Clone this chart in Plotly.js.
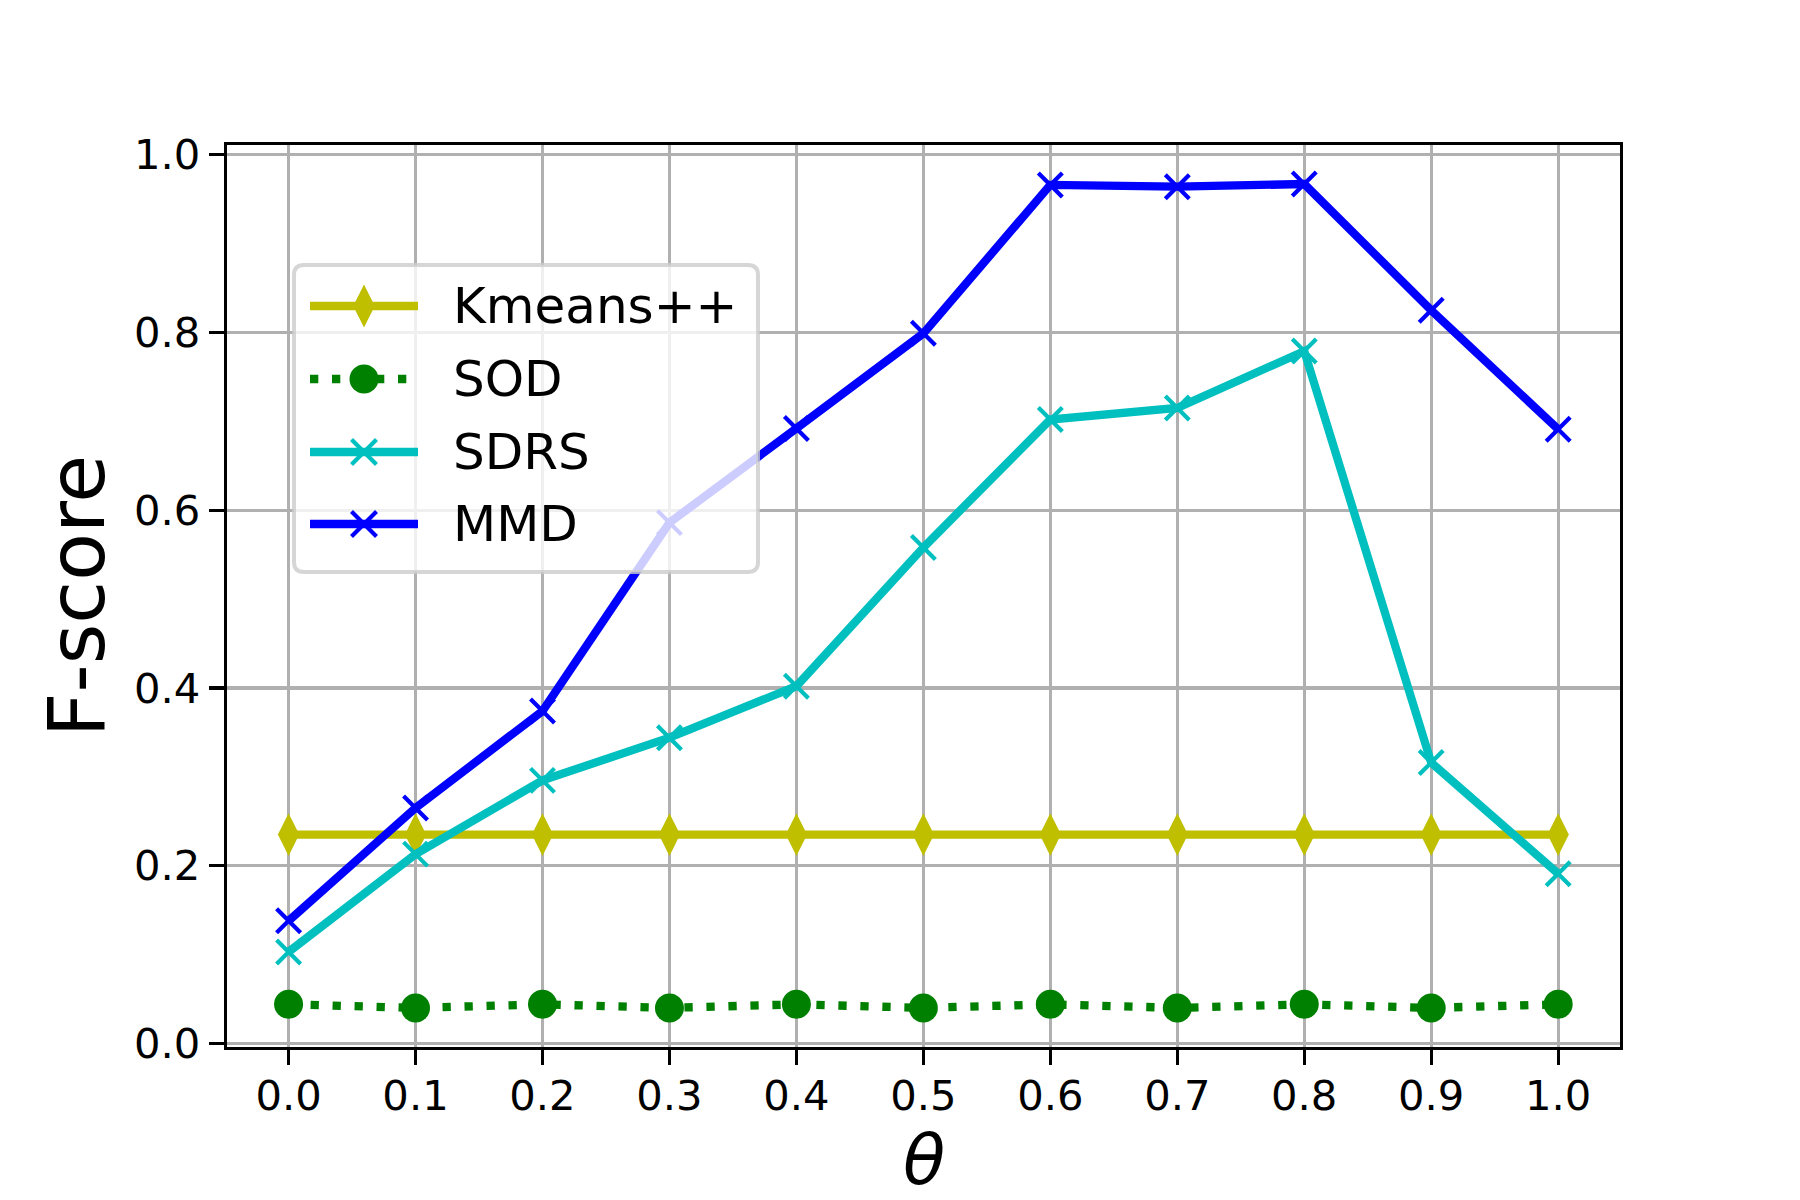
<!DOCTYPE html>
<html>
<head>
<meta charset="utf-8">
<script src="https://cdn.plot.ly/plotly-3.0.1.min.js"></script>
<style>
    html, body { margin: 0; padding: 0; background: #fff; }
    #chart { width: 1800px; height: 1200px; }
</style>
</head>
<body>
<div id="chart"></div>
<script>
// ── Data ─────────────────────────────────────────────────────────────

const theta = [0.0, 0.1, 0.2, 0.3, 0.4, 0.5, 0.6, 0.7, 0.8, 0.9, 1.0];

const seriesNames = ['Kmeans++', 'SOD', 'SDRS', 'MMD'];

const kmeansScores = [0.235, 0.235, 0.235, 0.235, 0.235, 0.235, 0.235, 0.235, 0.235, 0.235, 0.235];
const sodScores    = [0.044, 0.040, 0.044, 0.040, 0.044, 0.040, 0.044, 0.040, 0.044, 0.040, 0.044];
const sdrsScores   = [0.103, 0.213, 0.296, 0.344, 0.402, 0.558, 0.702, 0.715, 0.779, 0.316, 0.191];
const mmdScores    = [0.138, 0.265, 0.374, 0.586, 0.692, 0.799, 0.966, 0.964, 0.967, 0.825, 0.691];

const xTickVals   = [0.0, 0.1, 0.2, 0.3, 0.4, 0.5, 0.6, 0.7, 0.8, 0.9, 1.0];
const xTickLabels = ['0.0', '0.1', '0.2', '0.3', '0.4', '0.5', '0.6', '0.7', '0.8', '0.9', '1.0'];
const yTickVals   = [0.0, 0.2, 0.4, 0.6, 0.8, 1.0];
const yTickLabels = ['0.0', '0.2', '0.4', '0.6', '0.8', '1.0'];

const xTitle = '<i>θ</i>';
const yTitle = 'F-score';

// ── Styling (matplotlib look at 300 dpi) ─────────────────────────────

const FONT = 'DejaVu Sans, Liberation Sans, sans-serif';
const LW = 8.3;            // 2 pt line
const THIN = 3.3;          // 0.8 pt spines / grid
const DOT = '8.3px,13.7px';

const styles = [
    { color: '#bfbf00', dash: 'solid', symbol: 'diamond-tall', size: 30.5 },
    { color: '#008000', dash: DOT,     symbol: 'circle',       size: 29 },
    { color: '#00bfbf', dash: 'solid', symbol: 'x-thin',       size: 24 },
    { color: '#0000ff', dash: 'solid', symbol: 'x-thin',       size: 24 }
];

const seriesValues = [kmeansScores, sodScores, sdrsScores, mmdScores];

// Plot area in page pixels. Plotly draws the frame just outside this box,
// so the box sits ~1.6 px inside where matplotlib put its spines.
const M = { l: 227, r: 180, t: 145, b: 153 };
const W = 1800, H = 1200;
const plotW = W - M.l - M.r;
const plotH = H - M.t - M.b;
const px = x => (x - M.l) / plotW;
const py = y => (H - M.b - y) / plotH;

// ── Traces ───────────────────────────────────────────────────────────

const traces = seriesValues.map((vals, i) => {
    const s = styles[i];
    const thinX = s.symbol === 'x-thin';
    return {
        x: theta,
        y: vals,
        type: 'scatter',
        mode: 'lines+markers',
        name: seriesNames[i],
        showlegend: false,
        line: { color: s.color, width: LW, dash: s.dash },
        marker: {
            symbol: s.symbol,
            size: s.size,
            color: s.color,
            line: { color: s.color, width: thinX ? 4.2 : 0 }
        }
    };
});

// ── Legend (matplotlib style, semi-transparent, over the lines) ─────

function roundedRect(x0, y0, x1, y1, r) {
    // pixel box -> paper path with rounded corners
    const rx = r / plotW, ry = r / plotH;
    const L = px(x0), R = px(x1), T = py(y0), B = py(y1);
    return 'M' + (L + rx) + ',' + T +
        ' L' + (R - rx) + ',' + T + ' Q' + R + ',' + T + ' ' + R + ',' + (T - ry) +
        ' L' + R + ',' + (B + ry) + ' Q' + R + ',' + B + ' ' + (R - rx) + ',' + B +
        ' L' + (L + rx) + ',' + B + ' Q' + L + ',' + B + ' ' + L + ',' + (B + ry) +
        ' L' + L + ',' + (T - ry) + ' Q' + L + ',' + T + ' ' + (L + rx) + ',' + T + ' Z';
}

const legendBox = { x0: 294, y0: 265, x1: 758, y1: 572 };
const legendRows = [306, 379, 452, 524];
const legendLine = { x0: 310, x1: 418, mid: 364, text: 451 };

function markerShape(symbol, color, cy) {
    const base = {
        type: 'path',
        layer: 'above',
        xref: 'paper', yref: 'paper',
        xsizemode: 'pixel', ysizemode: 'pixel',
        xanchor: px(legendLine.mid), yanchor: py(cy)
    };
    if (symbol === 'diamond-tall') {
        return Object.assign(base, {
            path: 'M0,21.5 L10.8,0 L0,-21.5 L-10.8,0 Z',
            fillcolor: color, line: { width: 0 }
        });
    }
    if (symbol === 'circle') {
        return Object.assign(base, {
            type: 'circle', x0: -14.5, x1: 14.5, y0: -14.5, y1: 14.5,
            fillcolor: color, line: { width: 0 }
        });
    }
    return Object.assign(base, {
        path: 'M-12.5,-12.5 L12.5,12.5 M-12.5,12.5 L12.5,-12.5',
        line: { color: color, width: 4.2 }
    });
}

const shapes = [{
    type: 'path',
    layer: 'above',
    xref: 'paper', yref: 'paper',
    path: roundedRect(legendBox.x0, legendBox.y0, legendBox.x1, legendBox.y1, 10),
    fillcolor: 'rgba(255,255,255,0.8)',
    line: { color: 'rgba(204,204,204,0.8)', width: 4 }
}];

const annotations = [];

seriesNames.forEach((name, i) => {
    const s = styles[i];
    const cy = legendRows[i];
    shapes.push({
        type: 'line',
        layer: 'above',
        xref: 'paper', yref: 'paper',
        x0: px(legendLine.x0), x1: px(legendLine.x1),
        y0: py(cy), y1: py(cy),
        line: { color: s.color, width: LW, dash: s.dash }
    });
    shapes.push(markerShape(s.symbol, s.color, cy));
    annotations.push({
        text: name,
        xref: 'paper', yref: 'paper',
        x: px(legendLine.text), y: py(cy),
        xanchor: 'left', yanchor: 'middle',
        showarrow: false,
        font: { family: FONT, size: 50, color: '#000' }
    });
});

// The x title sits lower than Plotly allows inside the margin, so it is
// placed as an annotation centred under the plot, between the tick labels
// and the bottom edge of the page.
annotations.push({
    text: xTitle,
    xref: 'paper', yref: 'paper',
    x: 0.5, y: py(1160),
    xanchor: 'center', yanchor: 'middle',
    showarrow: false,
    font: { family: FONT, size: 69, color: '#000' }
});

// ── Layout ───────────────────────────────────────────────────────────

const axisCommon = {
    showline: true,
    mirror: true,
    linecolor: '#000',
    linewidth: THIN,
    showgrid: true,
    gridcolor: '#b0b0b0',
    gridwidth: THIN,
    zeroline: false,
    ticks: 'outside',
    ticklen: 15,
    tickwidth: THIN,
    tickcolor: '#000',
    tickfont: { family: FONT, size: 41.7, color: '#000' },
    tickmode: 'array'
};

const layout = {
    width: W,
    height: H,
    margin: M,
    paper_bgcolor: '#fff',
    plot_bgcolor: '#fff',
    showlegend: false,
    xaxis: Object.assign({}, axisCommon, {
        range: [-0.0485, 1.0487],
        tickvals: xTickVals,
        ticktext: xTickLabels,
        ticklabelstandoff: -5
    }),
    yaxis: Object.assign({}, axisCommon, {
        range: [-0.004, 1.0109],
        tickvals: yTickVals,
        ticktext: yTickLabels,
        title: {
            text: yTitle,
            font: { family: FONT, size: 78, color: '#000' },
            standoff: 4
        }
    }),
    shapes: shapes,
    annotations: annotations
};

Plotly.newPlot('chart', traces, layout, { staticPlot: true });
</script>
</body>
</html>
